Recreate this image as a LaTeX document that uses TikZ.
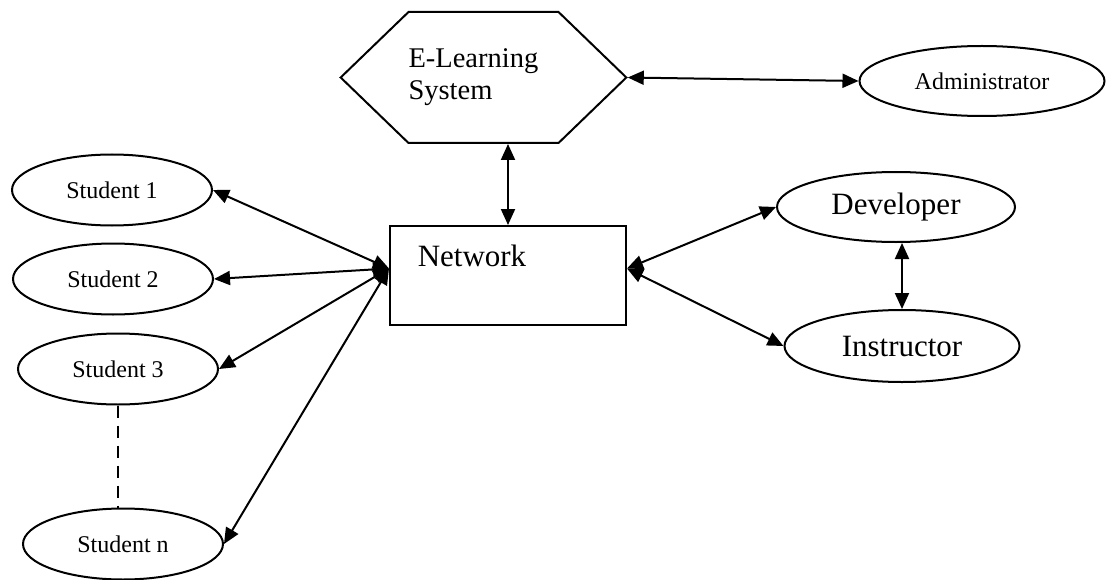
\documentclass[tikz,border=0pt]{standalone}
\usepackage{fontspec}
\setmainfont{Liberation Serif}
\usetikzlibrary{shapes.geometric,shapes.symbols,arrows.meta}
\begin{document}
\begin{tikzpicture}[x=1pt,y=-1pt,
  ell/.style={ellipse, draw, line width=2pt, inner sep=0pt, minimum width=200pt, minimum height=71pt, font=\fontsize{24}{28}\selectfont},
  big/.style={font=\fontsize{31}{36}\selectfont},
  link/.style={line width=2pt, {Triangle[length=16pt,width=14pt]}-{Triangle[length=16pt,width=14pt]}}]
\useasboundingbox (0,0) rectangle (1107,580);
\node[signal, signal to=west and east, signal pointer angle=88, draw, line width=2pt, minimum height=131pt, inner sep=0pt, text width=150pt, align=left, font=\fontsize{28.5}{32}\selectfont] (els) at (483.5,77.5){E-Learning\\System};
\node[ell, minimum width=245pt, minimum height=70pt] (adm) at (982,81){Administrator};
\node[ell] (stu1) at (112,190){Student 1};
\node[ell] (stu2) at (113,279){Student 2};
\node[ell] (stu3) at (118,369){Student 3};
\node[ell] (stun) at (123,544){Student n};
\node[draw, line width=2pt, minimum width=236pt, minimum height=99pt, label={[big, xshift=-36pt, yshift=20pt]center:Network}] (net) at (508,275.5){};
\node[ell, big, minimum width=238pt, minimum height=70pt] (dev) at (896,207){Developer};
\node[ell, big, minimum width=235pt, minimum height=72pt] (ins) at (902,346){Instructor};
\draw[link](els.east) -- (adm.west);
\draw[link](net.north |- els.south) -- (net.north);
\draw[link](stu1.east) -- ([yshift=7pt]net.west);
\draw[link](stu2.east) -- ([yshift=7pt]net.west);
\draw[link](stu3.east) -- ([yshift=7pt]net.west);
\draw[link](stun.east) -- ([yshift=7pt]net.west);
\draw[link]([yshift=7pt]net.east) -- (dev.west);
\draw[link]([yshift=7pt]net.east) -- (ins.west);
\draw[link](ins.north) -- (ins.north |- dev.south);
\draw[line width=2pt, dash pattern=on 12pt off 8pt](stu3.south) -- (stu3.south |- stun.north);
\end{tikzpicture}
\end{document}
